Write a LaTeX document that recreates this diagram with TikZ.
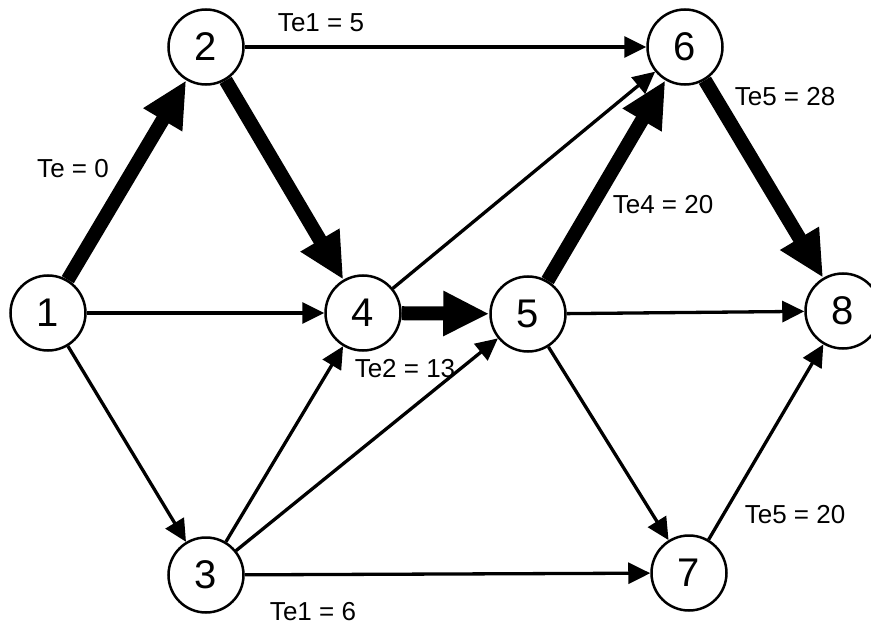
\documentclass[tikz,border=0pt]{standalone}
\usepackage{fontspec}
\setmainfont{Liberation Sans}
\usetikzlibrary{arrows.meta}
\begin{document}
\begin{tikzpicture}[x=1pt,y=-1pt,
  state/.style={circle,draw,line width=2.5pt,minimum size=75pt,inner sep=0pt,
    font=\fontsize{40}{42}\selectfont},
  thin/.style={line width=3.3pt,-{Triangle[length=22pt,width=21pt]}},
  thick/.style={line width=14pt,-{Triangle[length=46pt,width=42pt]}},
  lab/.style={font=\fontsize{26}{28}\selectfont,inner sep=0pt}]
\useasboundingbox (0,0) rectangle (871,626);
\node[state] (n1) at (48,313) {1};
\node[state] (n2) at (206,47) {2};
\node[state] (n3) at (206,575) {3};
\node[state] (n4) at (363,313) {4};
\node[state] (n5) at (528,314) {5};
\node[state] (n6) at (685,47) {6};
\node[state] (n7) at (689,573) {7};
\node[state] (n8) at (843,311) {8};
% thin arrows
\draw[thin] (n1) -- (n4);
\draw[thin] (n1) -- (n3);
\draw[thin] (n2) -- (n6);
\draw[thin] (n3) -- (n4);
\draw[thin] (n3) -- (n5);
\draw[thin] (n3) -- (n7);
\draw[thin] (n4) -- (n6);
\draw[thin] (n5) -- (n8);
\draw[thin] (n5) -- (n7);
\draw[thin] (n7) -- (n8);
% thick arrows
\draw[thick] (n1) -- (n2);
\draw[thick] (n2) -- (n4);
\draw[thick] (n4) -- (n5);
\draw[thick] (n5) -- (n6);
\draw[thick] (n6) -- (n8);
% labels
\node[lab] (l1) at (73,169) {Te = 0};
\node[lab] (l2) at (321,23) {Te1 = 5};
\node[lab] (l3) at (785,97) {Te5 = 28};
\node[lab] (l4) at (663,205) {Te4 = 20};
\node[lab] (l5) at (405,369) {Te2 = 13};
\node[lab] (l6) at (795,515) {Te5 = 20};
\node[lab] (l7) at (313,612) {Te1 = 6};
\end{tikzpicture}
\end{document}
